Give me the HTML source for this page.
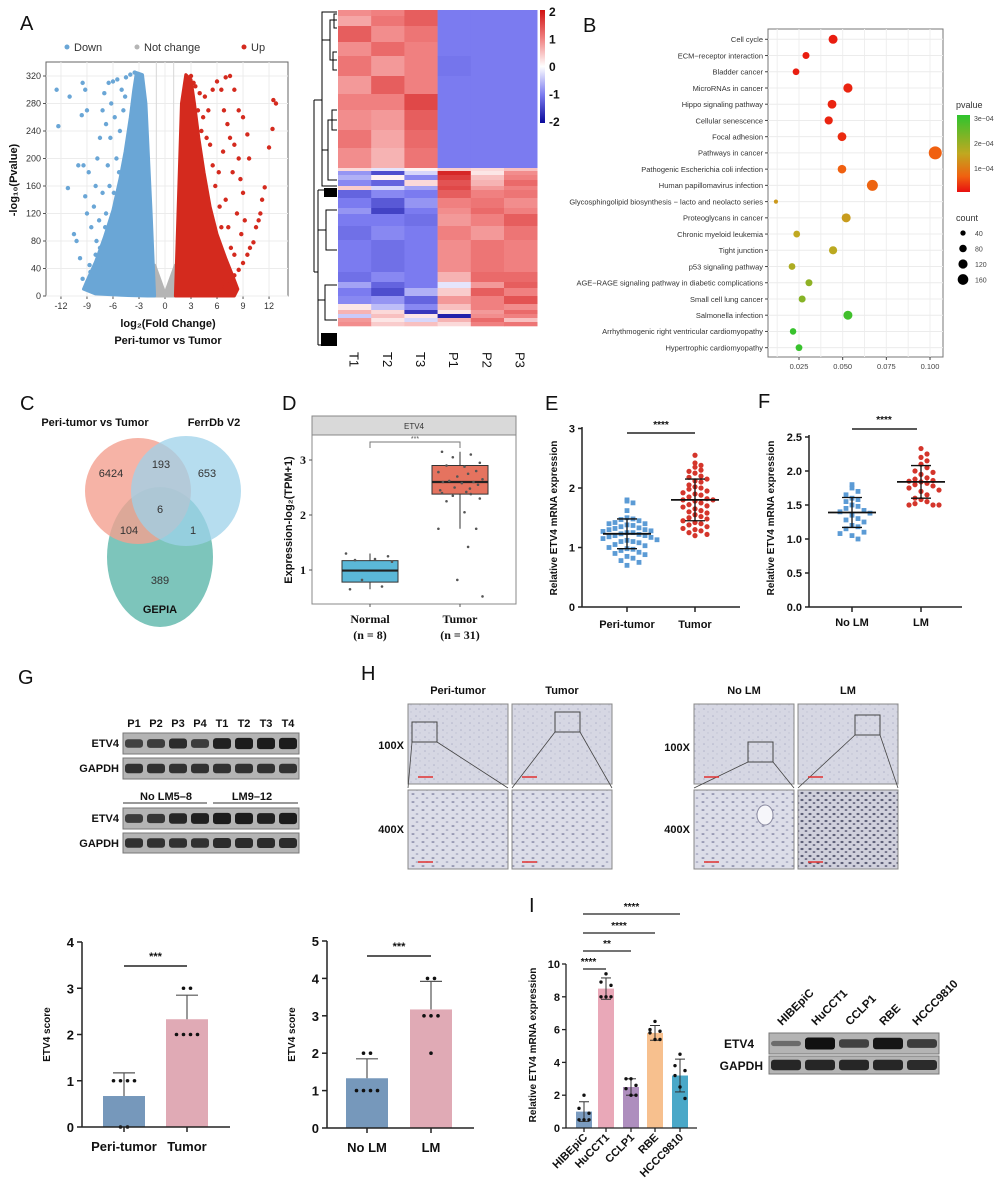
<!DOCTYPE html>
<html><head><meta charset="utf-8"><style>
html,body{margin:0;padding:0;background:#fff;}
svg{display:block;font-family:"Liberation Sans",Arial,sans-serif;}
</style></head><body>
<svg id="fig" width="1000" height="1190" viewBox="0 0 1000 1190" xmlns="http://www.w3.org/2000/svg">
<defs>
<linearGradient id="hmgrad" x1="0" y1="0" x2="0" y2="1"><stop offset="0" stop-color="#d01010"/><stop offset="0.25" stop-color="#f08080"/><stop offset="0.5" stop-color="#ffffff"/><stop offset="0.75" stop-color="#7b7bf0"/><stop offset="1" stop-color="#0a0a9a"/></linearGradient>
<linearGradient id="pgrad" x1="0" y1="0" x2="0" y2="1"><stop offset="0" stop-color="#2ec42e"/><stop offset="0.5" stop-color="#c0a820"/><stop offset="0.8" stop-color="#f06010"/><stop offset="1" stop-color="#e81010"/></linearGradient>
<pattern id="tex1" width="9" height="7" patternUnits="userSpaceOnUse"><rect width="9" height="7" fill="#d6d7e3"/><circle cx="2" cy="2" r="0.8" fill="#b0b2c8"/><circle cx="6" cy="5" r="0.7" fill="#c0c2d4"/></pattern>
<pattern id="tex2" width="10" height="8" patternUnits="userSpaceOnUse"><rect width="10" height="8" fill="#dcdde8"/><ellipse cx="3" cy="2" rx="1.6" ry="0.9" fill="#8e90ac"/><ellipse cx="7" cy="6" rx="1.4" ry="0.8" fill="#a0a2bc"/></pattern>
<pattern id="tex3" width="8" height="7" patternUnits="userSpaceOnUse"><rect width="8" height="7" fill="#d0d0dc"/><ellipse cx="2" cy="2" rx="1.6" ry="1.1" fill="#5e6078"/><ellipse cx="6" cy="5" rx="1.4" ry="1" fill="#707088"/></pattern>
</defs>
<g id="root"></g>
</svg>
<script>
// ---------------- DATA ----------------
const volcanoDown = [[-12.5,300],[-12.3,247],[-11,290],[-11.2,157],[-10,190],[-9.5,310],[-9.2,300],[-9.6,263],[-9.2,145],[-9,270],[-10.5,90],[-10.2,80],[-9.8,55],[-9.5,25],[-8.7,45],[-8.5,100],[-8.2,130],[-8,160],[-7.8,200],[-7.5,230],[-7.2,270],[-7,295],[-6.8,250],[-6.5,310],[-6,312],[-5.5,315],[-5,300],[-8,60],[-7.6,110],[-7.2,150],[-6.6,190],[-6.3,230],[-9,120],[-8.8,180],[-9.4,190],[-7.9,80],[-8.6,35],[-7.4,40],[-6.2,280],[-5.8,260],[-4.5,318],[-4,322],[-3.5,325],[-5.6,200],[-5.2,240],[-4.8,270],[-6.8,120],[-6.4,160],[-7.5,70],[-5.9,150],[-4.6,290],[-5.3,180],[-6.9,100]];
const volcanoUp = [[3,320],[3.5,305],[4,295],[4.6,290],[5,270],[5.5,300],[6,312],[6.5,300],[7,318],[7.5,320],[8,300],[8.5,270],[9,260],[9.5,235],[12.5,285],[12.8,280],[12.4,243],[12,216],[11.5,158],[11.2,140],[11,120],[10.8,110],[10.5,100],[10.2,78],[9.8,70],[9.5,60],[9,48],[8.5,38],[8,30],[7.5,22],[7,15],[6.5,10],[9,150],[8.7,170],[8.5,200],[7.8,180],[7.5,230],[7.2,250],[6.8,270],[8,220],[9.2,110],[8.3,120],[7,140],[8.8,90],[6.2,180],[6.7,210],[7.3,100],[8,60],[9.7,200],[4.2,240],[5.2,220],[3.8,270],[5.8,160],[6.3,130],[5.5,190],[4.8,230],[6.5,100],[7.6,70],[3.3,310],[4.4,260]];
const volcanoDownCore = [[-1.2,0],[-1.6,120],[-2.2,280],[-2.6,322],[-3.3,325],[-3.6,300],[-4,260],[-4.6,210],[-5.2,170],[-6,125],[-7,85],[-8,50],[-9,22],[-9.4,10],[-8,3],[-5,1],[-2,0]];
const volcanoUpCore = [[1.2,0],[1.5,120],[1.9,280],[2.4,322],[3,315],[3.4,280],[3.9,230],[4.5,180],[5.2,130],[6,90],[7,55],[7.8,30],[8.4,10],[8,0]];
const volcanoGrey = [[-1.7,45],[-1.2,45],[0,3],[1.2,45],[1.7,45],[1.3,0],[-1.3,0]];
const volcanoXTicks = [-12,-9,-6,-3,0,3,6,9,12];
const volcanoYTicks = [0,40,80,120,160,200,240,280,320];

const heatCols = ['T1','T2','T3','P1','P2','P3'];
const heatBandHeights = [6,10,16,14,20,18,16,20,18,20, 3,4,5,6,4,8,10,6,12,14,32,10,6,8,8,6,4,4,4,4];
const heatBandValues = [
[0.9,1.0,1.3,-1,-1,-1],[0.7,1.1,1.3,-1,-1,-1],[1.3,0.9,1.1,-1,-1,-1],[0.9,1.2,1.0,-1,-1,-1],[1.1,0.8,1.0,-1.05,-1,-1],
[0.8,1.3,1.0,-1,-1,-1],[1.0,1.0,1.5,-1,-1,-1],[0.9,0.8,1.3,-1,-1,-1],[1.1,0.7,1.2,-1,-1,-1],[0.9,0.6,1.1,-1,-1,-1],
[0.3,-0.2,0.1,0.4,0.3,0.5],[-0.8,-1.4,-0.3,1.8,0.2,0.9],[-0.6,0.1,-0.9,1.6,0.5,1.0],[-0.9,-1.2,0.3,1.4,0.6,1.2],[0.4,-0.3,-0.7,1.5,0.8,1.0],
[-1.2,-0.9,-1,1.3,1.0,1.1],[-1,-1.3,-0.8,1.0,1.1,0.9],[-0.8,-1.5,-1,0.9,1.2,1.0],[-1,-1,-1.1,0.8,1.0,1.3],[-1.1,-0.9,-1,1.0,0.8,1.1],
[-1,-1.1,-1,0.9,1.1,1.0],[-1.1,-0.9,-1,0.6,1.2,1.2],[-0.7,-1.2,-1,-0.2,0.8,1.3],[-1.0,-1.4,-0.6,0.4,1.3,1.0],[-0.9,-0.8,-1.2,0.8,1.0,1.4],
[0.2,-0.5,-0.9,0.5,1.0,0.9],[0.6,0.3,-1.6,0.2,0.8,1.2],[-0.4,0.5,0.2,-1.8,0.9,1.0],[0.8,0.2,-0.3,0.6,1.2,0.5],[0.9,0.4,0.5,0.3,1.0,1.1]];

const keggTerms = ['Cell cycle','ECM−receptor interaction','Bladder cancer','MicroRNAs in cancer','Hippo signaling pathway','Cellular senescence','Focal adhesion','Pathways in cancer','Pathogenic Escherichia coli infection','Human papillomavirus infection','Glycosphingolipid biosynthesis − lacto and neolacto series','Proteoglycans in cancer','Chronic myeloid leukemia','Tight junction','p53 signaling pathway','AGE−RAGE signaling pathway in diabetic complications','Small cell lung cancer','Salmonella infection','Arrhythmogenic right ventricular cardiomyopathy','Hypertrophic cardiomyopathy'];
const keggRatio = [0.0445,0.029,0.0233,0.053,0.0439,0.042,0.0496,0.103,0.0496,0.067,0.0118,0.052,0.0237,0.0445,0.021,0.0307,0.0268,0.053,0.0216,0.025];
const keggPvalue = [0.1e-4,0.1e-4,0.1e-4,0.15e-4,0.15e-4,0.15e-4,0.2e-4,0.6e-4,0.6e-4,0.65e-4,1.3e-4,1.35e-4,1.5e-4,1.55e-4,1.7e-4,2.0e-4,2.1e-4,2.8e-4,2.9e-4,2.9e-4];
const keggCount = [115,70,65,120,110,95,110,240,105,170,25,115,65,95,65,70,70,115,60,65];
const keggXTicks = [0.025,0.05,0.075,0.1];
const keggXTickLabels = ['0.025','0.050','0.075','0.100'];
const countLegend = [40,80,120,160];
const pLegend = [3e-4,2e-4,1e-4];
const pLegendLabels = ['3e−04','2e−04','1e−04'];

const vennLabels = ['6424','193','653','6','104','1','389'];

const boxGroups = ['Normal','Tumor'];
const boxStats = [[0.65,0.78,0.99,1.17,1.3],[1.75,2.38,2.6,2.9,3.15]];
const boxPointsNormal = [0.65,0.7,0.82,1.15,1.18,1.2,1.25,1.3];
const boxPointsTumor = [3.15,3.1,3.05,2.95,2.9,2.88,2.8,2.78,2.75,2.7,2.65,2.62,2.6,2.6,2.58,2.55,2.5,2.48,2.45,2.42,2.4,2.38,2.35,2.3,2.25,2.05,1.75,1.75,1.42,0.82,0.52];
const boxYTicks = [1,2,3];

const eGroups = ['Peri-tumor','Tumor'];
const ePeri = [1.8,1.78,1.75,1.62,1.5,1.48,1.47,1.45,1.42,1.4,1.4,1.38,1.37,1.35,1.33,1.32,1.3,1.3,1.28,1.27,1.25,1.25,1.23,1.22,1.2,1.2,1.18,1.17,1.15,1.13,1.12,1.1,1.1,1.08,1.05,1.03,1.0,0.98,0.97,0.95,0.92,0.9,0.88,0.85,0.82,0.78,0.75,0.7];
const eTumor = [2.55,2.42,2.38,2.35,2.3,2.28,2.25,2.2,2.18,2.15,2.12,2.1,2.05,2.02,2.0,1.98,1.95,1.92,1.9,1.88,1.85,1.82,1.8,1.8,1.78,1.75,1.72,1.7,1.68,1.65,1.62,1.6,1.58,1.55,1.52,1.5,1.48,1.45,1.42,1.4,1.38,1.35,1.32,1.3,1.28,1.25,1.22,1.2];
const eStats = [[1.23,0.25],[1.8,0.35]];
const eYTicks = [0,1,2,3];

const fGroups = ['No LM','LM'];
const fNoLM = [1.8,1.75,1.7,1.65,1.6,1.58,1.55,1.5,1.48,1.45,1.42,1.4,1.38,1.35,1.3,1.28,1.25,1.2,1.18,1.15,1.1,1.08,1.05,1.0];
const fLM = [2.33,2.25,2.2,2.15,2.1,2.05,2.0,1.98,1.95,1.9,1.88,1.86,1.85,1.84,1.82,1.8,1.78,1.75,1.72,1.7,1.65,1.6,1.58,1.55,1.52,1.5,1.5,1.5];
const fStats = [[1.39,0.22],[1.84,0.24]];
const fYTicks = [0,0.5,1,1.5,2,2.5];
const fYTickLabels = ['0.0','0.5','1.0','1.5','2.0','2.5'];

const blotLanes1 = ['P1','P2','P3','P4','T1','T2','T3','T4'];
const blotEtv4Top = [0.55,0.6,0.75,0.6,0.85,0.9,0.9,0.9];
const blotEtv4Bottom = [0.6,0.65,0.8,0.85,0.9,0.9,0.85,0.9];

const sc1Groups = ['Peri-tumor','Tumor'];
const sc1Means = [0.67,2.33];
const sc1Sd = [0.5,0.52];
const sc1Points = [[1,1,1,1,0,0],[2,2,2,2,3,3]];
const sc1YTicks = [0,1,2,3,4];
const sc2Groups = ['No LM','LM'];
const sc2Means = [1.33,3.17];
const sc2Sd = [0.52,0.75];
const sc2Points = [[1,1,1,1,2,2],[4,4,3,3,3,2]];
const sc2YTicks = [0,1,2,3,4,5];

const iGroups = ['HIBEpiC','HuCCT1','CCLP1','RBE','HCCC9810'];
const iMeans = [1.0,8.5,2.5,5.8,3.2];
const iSd = [0.6,0.65,0.5,0.45,1.0];
const iPoints = [[2.0,1.2,0.9,0.5,0.5,0.5],[9.4,8.9,8.7,8.0,8.0,8.0],[3.0,3.0,2.6,2.4,2.0,2.0],[6.5,6.0,5.9,5.8,5.4,5.4],[4.5,3.8,3.5,3.2,2.5,1.8]];
const iYTicks = [0,2,4,6,8,10];
const iSig = ['****','**','****','****'];
const iBlotEtv4 = [0.15,1.0,0.55,0.95,0.6];

// ---------------- HELPERS ----------------
const NS = 'http://www.w3.org/2000/svg';
const root = document.getElementById('root');
function mk(parent, tag, attrs, name, inter) {
  const el = document.createElementNS(NS, tag);
  for (const k in attrs) el.setAttribute(k, attrs[k]);
  
  
  parent.appendChild(el);
  return el;
}
function grp(name, parent) { return mk(parent || root, 'g', {}, name, false); }
function T(parent, x, y, s, size, name, extra) {
  const a = Object.assign({x: x, y: y, 'font-size': size, fill: '#111'}, extra || {});
  const t = mk(parent, 'text', a, name, false);
  t.textContent = s;
  return t;
}
function line(parent, x1, y1, x2, y2, stroke, w, name) {
  return mk(parent, 'line', {x1: x1, y1: y1, x2: x2, y2: y2, stroke: stroke, 'stroke-width': w}, name, false);
}
function lerpC(a, b, t) { return 'rgb(' + a.map((v, i) => Math.round(v + (b[i] - v) * t)).join(',') + ')'; }
function heatColor(v) {
  const stops = [[-2,[10,10,154]],[-1,[123,123,240]],[0,[255,255,255]],[1,[240,128,128]],[2,[208,16,16]]];
  v = Math.max(-2, Math.min(2, v));
  for (let i = 0; i < 4; i++) if (v <= stops[i+1][0]) return lerpC(stops[i][1], stops[i+1][1], v - stops[i][0]);
  return 'rgb(208,16,16)';
}
function pColor(p) {
  const stops = [[0,[232,16,16]],[0.6e-4,[240,96,16]],[1.5e-4,[192,168,32]],[3e-4,[46,196,46]]];
  for (let i = 0; i < 3; i++) if (p <= stops[i+1][0]) return lerpC(stops[i][1], stops[i+1][1], (p - stops[i][0]) / (stops[i+1][0] - stops[i][0]));
  return 'rgb(46,196,46)';
}
function panelLetter(s, x, y) { T(root, x, y, s, 20, 'panel-label-' + s.toLowerCase()); }

// ---------------- PANEL A: VOLCANO ----------------
(function(){
  const g = grp('volcano-plot');
  const vx = v => 165 + v * 8.67, vy = v => 296 - v * 0.6875;
  mk(g, 'rect', {x: 46, y: 62, width: 242, height: 234, fill: '#fff', stroke: '#666', 'stroke-width': 1}, 'plot-frame', false);
  volcanoXTicks.forEach(t => {
    line(g, vx(t), 62, vx(t), 296, '#ececec', 1, 'x-gridline');
    line(g, vx(t), 296, vx(t), 299, '#555', 1, 'x-tick');
    T(g, vx(t), 309, String(t), 9, 'x-tick-label', {'text-anchor': 'middle', fill: '#333'});
  });
  volcanoYTicks.forEach(t => {
    line(g, 46, vy(t), 288, vy(t), '#ececec', 1, 'y-gridline');
    line(g, 43, vy(t), 46, vy(t), '#555', 1, 'y-tick');
    T(g, 41, vy(t) + 3, String(t), 9, 'y-tick-label', {'text-anchor': 'end', fill: '#333'});
  });
  line(g, vx(-1), 62, vx(-1), 296, '#d8d8d8', 1, 'threshold-left');
  line(g, vx(1), 62, vx(1), 296, '#d8d8d8', 1, 'threshold-right');
  const poly = (pts, fill, name) => mk(g, 'polygon', {points: pts.map(p => vx(p[0]) + ',' + vy(p[1])).join(' '), fill: fill, stroke: fill, 'stroke-width': 3, 'stroke-linejoin': 'round'}, name, false);
  poly(volcanoGrey, '#b5b5b5', 'not-change-core');
  poly(volcanoDownCore, '#6aa6d6', 'down-core');
  poly(volcanoUpCore, '#d42a1e', 'up-core');
  volcanoDown.forEach(p => mk(g, 'circle', {cx: vx(p[0]), cy: vy(p[1]), r: 2.2, fill: '#6aa6d6'}, 'down-point', false));
  volcanoUp.forEach(p => mk(g, 'circle', {cx: vx(p[0]), cy: vy(p[1]), r: 2.2, fill: '#d42a1e'}, 'up-point', false));
  mk(g, 'circle', {cx: 67, cy: 47, r: 2.5, fill: '#6aa6d6'}, 'legend-down-marker', false);
  T(g, 74, 51, 'Down', 11, 'legend-down', {fill: '#333'});
  mk(g, 'circle', {cx: 137, cy: 47, r: 2.5, fill: '#b5b5b5'}, 'legend-notchange-marker', false);
  T(g, 144, 51, 'Not change', 11, 'legend-notchange', {fill: '#333'});
  mk(g, 'circle', {cx: 244, cy: 47, r: 2.5, fill: '#d42a1e'}, 'legend-up-marker', false);
  T(g, 251, 51, 'Up', 11, 'legend-up', {fill: '#333'});
  T(g, 17, 180, '-log₁₀(Pvalue)', 11, 'y-axis-title', {'text-anchor': 'middle', 'font-weight': 'bold', transform: 'rotate(-90 17 180)'});
  T(g, 168, 327, 'log₂(Fold Change)', 11, 'x-axis-title', {'text-anchor': 'middle', 'font-weight': 'bold'});
  T(g, 168, 344, 'Peri-tumor vs Tumor', 11, 'comparison-title', {'text-anchor': 'middle', 'font-weight': 'bold'});
})();
panelLetter('A', 20, 30);

// ---------------- HEATMAP ----------------
(function(){
  const g = grp('heatmap');
  const x0 = 338, cw = 33.2;
  let y = 10;
  heatBandHeights.forEach((h, bi) => {
    heatBandValues[bi].forEach((v, ci) => {
      mk(g, 'rect', {x: x0 + ci * cw, y: y, width: cw + 0.3, height: h + 0.3, fill: heatColor(v)}, 'heatmap-cell', false);
    });
    y += h;
  });
  heatCols.forEach((c, i) => {
    const cx = x0 + i * cw + cw / 2;
    T(g, cx - 5, 352, c, 13, 'column-label', {transform: 'rotate(90 ' + (cx - 5) + ' 352)'});
  });
  const d = grp('dendrogram', g);
  mk(d, 'path', {d: 'M337,12 H322 V186 H337 M322,100 H314 M314,100 V272 M314,272 H318 M318,190 V345 M318,190 H337 M318,345 H337 M322,40 H330 V20 H337 M330,40 V60 H337 M322,150 H328 V120 H337 M328,150 V180 H337 M330,20 H334 V14 H337 M334,20 V28 H337 M330,60 H333 V52 H337 M333,60 V70 H337 M328,120 H332 V110 H337 M332,120 V130 H337 M318,230 H326 V210 H337 M326,230 V250 H337 M318,300 H325 V285 H337 M325,300 V320 H337', stroke: '#000', fill: 'none', 'stroke-width': 1}, 'dendrogram-lines', false);
  mk(d, 'rect', {x: 324, y: 188, width: 13, height: 9, fill: '#000'}, 'dendrogram-dense-1', false);
  mk(d, 'rect', {x: 321, y: 333, width: 16, height: 13, fill: '#000'}, 'dendrogram-dense-2', false);
  mk(g, 'rect', {x: 540, y: 10, width: 5, height: 113, fill: 'url(#hmgrad)'}, 'colorbar', false);
  ['2','1','0','-1','-2'].forEach((s, i) => T(g, 549, 16 + i * 27.5, s, 12, 'colorbar-label', {'font-weight': 'bold'}));
})();

// ---------------- PANEL B: KEGG BUBBLE ----------------
(function(){
  const g = grp('kegg-bubble-plot');
  const bx = v => 799 + (v - 0.025) * 1747, by = i => 39.3 + i * 16.23;
  mk(g, 'rect', {x: 768, y: 29, width: 175, height: 328, fill: '#fff', stroke: '#777'}, 'plot-frame', false);
  for (let v = 0.0125; v < 0.11; v += 0.0125) line(g, bx(v), 29, bx(v), 357, '#efefef', 1, 'x-gridline');
  keggTerms.forEach((t, i) => {
    line(g, 768, by(i), 943, by(i), '#ececec', 1, 'y-gridline');
    line(g, 765, by(i), 768, by(i), '#444', 1, 'y-tick');
    T(g, 763, by(i) + 2.8, t, 7.5, 'term-label', {'text-anchor': 'end', fill: '#333'});
  });
  keggXTicks.forEach((v, i) => {
    line(g, bx(v), 357, bx(v), 360, '#444', 1, 'x-tick');
    T(g, bx(v), 369, keggXTickLabels[i], 7.5, 'x-tick-label', {'text-anchor': 'middle', fill: '#444'});
  });
  keggTerms.forEach((t, i) => {
    mk(g, 'circle', {cx: bx(keggRatio[i]), cy: by(i), r: Math.sqrt(keggCount[i]) * 0.42, fill: pColor(keggPvalue[i])}, 'bubble', false);
  });
  T(g, 956, 108, 'pvalue', 9, 'color-legend-title', {fill: '#333'});
  mk(g, 'rect', {x: 957, y: 115, width: 13, height: 77, fill: 'url(#pgrad)'}, 'color-legend-bar', false);
  pLegend.forEach((p, i) => T(g, 974, 121 + (3e-4 - p) / 1e-4 * 25, pLegendLabels[i], 7, 'color-legend-label', {fill: '#444'}));
  T(g, 956, 221, 'count', 9, 'size-legend-title', {fill: '#333'});
  countLegend.forEach((c, i) => {
    mk(g, 'circle', {cx: 963, cy: 233 + i * 15.5, r: Math.sqrt(c) * 0.42, fill: '#000'}, 'size-legend-dot', false);
    T(g, 975, 236 + i * 15.5, String(c), 7, 'size-legend-label', {fill: '#444'});
  });
})();
panelLetter('B', 583, 32);

// ---------------- PANEL C: VENN ----------------
(function(){
  const g = grp('venn-diagram');
  mk(g, 'ellipse', {cx: 160, cy: 557, rx: 53, ry: 70, fill: '#6fbfb4', opacity: 0.9}, 'gepia-set', false);
  mk(g, 'circle', {cx: 138, cy: 491, r: 53, fill: '#f4a090', opacity: 0.8}, 'peri-tumor-set', false);
  mk(g, 'circle', {cx: 186, cy: 491, r: 55, fill: '#9ed2ea', opacity: 0.75}, 'ferrdb-set', false);
  T(g, 95, 426, 'Peri-tumor vs Tumor', 11, 'set-label-peri', {'text-anchor': 'middle', 'font-weight': 'bold'});
  T(g, 214, 426, 'FerrDb V2', 11, 'set-label-ferrdb', {'text-anchor': 'middle', 'font-weight': 'bold'});
  T(g, 160, 613, 'GEPIA', 11, 'set-label-gepia', {'text-anchor': 'middle', 'font-weight': 'bold'});
  const pos = [[111,477],[161,468],[207,477],[160,513],[129,534],[193,534],[160,584]];
  vennLabels.forEach((s, i) => T(g, pos[i][0], pos[i][1], s, 11, 'venn-count', {'text-anchor': 'middle', fill: '#333'}));
})();
panelLetter('C', 20, 410);

// ---------------- PANEL D: BOXPLOT ----------------
(function(){
  const g = grp('etv4-boxplot');
  const dy = v => 570 - (v - 1) * 55;
  const cx = [370, 460];
  mk(g, 'rect', {x: 312, y: 416, width: 204, height: 19, fill: '#d9d9d9', stroke: '#888'}, 'facet-strip', false);
  T(g, 414, 429, 'ETV4', 8, 'facet-title', {'text-anchor': 'middle', fill: '#333'});
  mk(g, 'rect', {x: 312, y: 435, width: 204, height: 169, fill: '#fff', stroke: '#888'}, 'plot-frame', false);
  boxYTicks.forEach(t => {
    line(g, 309, dy(t), 312, dy(t), '#555', 1, 'y-tick');
    T(g, 306, dy(t) + 4, String(t), 12, 'y-tick-label', {'text-anchor': 'end', 'font-weight': 'bold', 'font-family': 'Liberation Serif, serif'});
  });
  const cols = ['#5bb8d8', '#e5735f'];
  boxStats.forEach((s, i) => {
    line(g, cx[i], dy(s[0]), cx[i], dy(s[4]), '#333', 1, 'whisker');
    mk(g, 'rect', {x: cx[i] - 28, y: dy(s[3]), width: 56, height: dy(s[1]) - dy(s[3]), fill: cols[i], stroke: '#333'}, 'box-' + boxGroups[i].toLowerCase(), false);
    line(g, cx[i] - 28, dy(s[2]), cx[i] + 28, dy(s[2]), '#222', 2.2, 'median-line');
    line(g, cx[i], 604, cx[i], 607, '#555', 1, 'x-tick');
  });
  const jit = [-20, 12, -8, 22, -15, 5, 18, -24, 9, -3, 25, -12, 15, -19, 2, 20, -6, 11, -22, 7];
  boxPointsNormal.forEach((v, k) => mk(g, 'circle', {cx: cx[0] + jit[k % 20], cy: dy(v), r: 1.3, fill: '#555'}, 'jitter-point', false));
  boxPointsTumor.forEach((v, k) => mk(g, 'circle', {cx: cx[1] + jit[k % 20] * 0.9, cy: dy(v), r: 1.3, fill: '#555'}, 'jitter-point', false));
  mk(g, 'path', {d: 'M370,448 V442 H460 V448', stroke: '#777', fill: 'none'}, 'significance-bracket', false);
  T(g, 415, 441, '***', 7, 'significance-label', {'text-anchor': 'middle', fill: '#555'});
  T(g, 292, 520, 'Expression-log₂(TPM+1)', 11, 'y-axis-title', {'text-anchor': 'middle', 'font-weight': 'bold', transform: 'rotate(-90 292 520)'});
  T(g, 370, 623, 'Normal', 12, 'x-label-normal', {'text-anchor': 'middle', 'font-weight': 'bold', 'font-family': 'Liberation Serif, serif'});
  T(g, 370, 639, '(n = 8)', 12, 'x-label-normal-n', {'text-anchor': 'middle', 'font-weight': 'bold', 'font-family': 'Liberation Serif, serif'});
  T(g, 460, 623, 'Tumor', 12, 'x-label-tumor', {'text-anchor': 'middle', 'font-weight': 'bold', 'font-family': 'Liberation Serif, serif'});
  T(g, 460, 639, '(n = 31)', 12, 'x-label-tumor-n', {'text-anchor': 'middle', 'font-weight': 'bold', 'font-family': 'Liberation Serif, serif'});
})();
panelLetter('D', 282, 410);

// ---------------- scatter-dot helper ----------------
function dotPlot(g, vals, cx, yf, shape, color, binPx) {
  const bins = {};
  vals.forEach(v => {
    const y = yf(v), b = Math.round(y / binPx);
    bins[b] = (bins[b] || 0) + 1;
    const k = bins[b] - 1;
    const off = (k % 2 ? 1 : -1) * Math.ceil(k / 2) * 6;
    if (shape === 'sq') mk(g, 'rect', {x: cx + off - 2.4, y: y - 2.4, width: 4.8, height: 4.8, fill: color}, 'data-point', false);
    else mk(g, 'circle', {cx: cx + off, cy: y, r: 2.6, fill: color}, 'data-point', false);
  });
}
function meanSd(g, cx, yf, m, sd, hw) {
  line(g, cx - hw, yf(m), cx + hw, yf(m), '#111', 1.8, 'mean-line');
  line(g, cx, yf(m - sd), cx, yf(m + sd), '#111', 1.3, 'sd-bar');
  line(g, cx - 10, yf(m - sd), cx + 10, yf(m - sd), '#111', 1.3, 'sd-cap');
  line(g, cx - 10, yf(m + sd), cx + 10, yf(m + sd), '#111', 1.3, 'sd-cap');
}

// ---------------- PANEL E ----------------
(function(){
  const g = grp('panel-e-dotplot');
  const ey = v => 607 - v * 59.5, cx = [627, 695];
  line(g, 582, 427, 582, 607, '#222', 1.5, 'y-axis');
  line(g, 582, 607, 740, 607, '#222', 1.5, 'x-axis');
  eYTicks.forEach(t => { line(g, 578, ey(t), 582, ey(t), '#222', 1.5, 'y-tick'); T(g, 575, ey(t) + 4, String(t), 11, 'y-tick-label', {'text-anchor': 'end', 'font-weight': 'bold'}); });
  cx.forEach((c, i) => { line(g, c, 607, c, 612, '#222', 1.5, 'x-tick'); T(g, c, 628, eGroups[i], 11, 'x-tick-label', {'text-anchor': 'middle', 'font-weight': 'bold'}); });
  dotPlot(g, ePeri, cx[0], ey, 'sq', '#5b9bd5', 8);
  dotPlot(g, eTumor, cx[1], ey, 'ci', '#d4352b', 7);
  eStats.forEach((s, i) => meanSd(g, cx[i], ey, s[0], s[1], 24));
  line(g, 627, 433, 695, 433, '#222', 1.5, 'significance-line');
  T(g, 661, 428, '****', 10, 'significance-label', {'text-anchor': 'middle', 'font-weight': 'bold'});
  T(g, 557, 518, 'Relative  ETV4 mRNA expression', 10, 'y-axis-title', {'text-anchor': 'middle', 'font-weight': 'bold', transform: 'rotate(-90 557 518)'});
})();
panelLetter('E', 545, 410);

// ---------------- PANEL F ----------------
(function(){
  const g = grp('panel-f-dotplot');
  const fy = v => 607 - v * 68, cx = [852, 921];
  line(g, 809, 435, 809, 607, '#222', 1.5, 'y-axis');
  line(g, 809, 607, 962, 607, '#222', 1.5, 'x-axis');
  fYTicks.forEach((t, i) => { line(g, 805, fy(t), 809, fy(t), '#222', 1.5, 'y-tick'); T(g, 802, fy(t) + 4, fYTickLabels[i], 11, 'y-tick-label', {'text-anchor': 'end', 'font-weight': 'bold'}); });
  cx.forEach((c, i) => { line(g, c, 607, c, 612, '#222', 1.5, 'x-tick'); T(g, c, 626, fGroups[i], 11, 'x-tick-label', {'text-anchor': 'middle', 'font-weight': 'bold'}); });
  dotPlot(g, fNoLM, cx[0], fy, 'sq', '#5b9bd5', 10);
  dotPlot(g, fLM, cx[1], fy, 'ci', '#d4352b', 9);
  fStats.forEach((s, i) => meanSd(g, cx[i], fy, s[0], s[1], 24));
  line(g, 852, 429, 917, 429, '#222', 1.5, 'significance-line');
  T(g, 884, 423, '****', 10, 'significance-label', {'text-anchor': 'middle', 'font-weight': 'bold'});
  T(g, 774, 518, 'Relative  ETV4 mRNA expression', 10, 'y-axis-title', {'text-anchor': 'middle', 'font-weight': 'bold', transform: 'rotate(-90 774 518)'});
})();
panelLetter('F', 758, 408);

// ---------------- PANEL G: BLOTS ----------------
function blot(g, x, y, w, h, vals, name) {
  const b = grp(name, g);
  mk(b, 'rect', {x: x, y: y, width: w, height: h, fill: '#b4b4b4', stroke: '#777'}, 'blot-membrane', false);
  const lw = w / vals.length;
  vals.forEach((v, i) => {
    mk(b, 'rect', {x: x + i * lw + 2, y: y + h / 2 - (2 + v * 4), width: lw - 4, height: 4 + v * 8, rx: 3, fill: '#111', opacity: 0.35 + v * 0.65}, 'blot-band', false);
  });
}
(function(){
  const g = grp('western-blot-g');
  const lw = 176 / 8;
  blotLanes1.forEach((s, i) => T(g, 123 + lw * i + lw / 2, 727, s, 11, 'lane-label', {'text-anchor': 'middle', 'font-weight': 'bold'}));
  blot(g, 123, 733, 176, 21, blotEtv4Top, 'etv4-blot-1');
  blot(g, 123, 758, 176, 21, [0.7,0.7,0.7,0.7,0.7,0.7,0.7,0.7], 'gapdh-blot-1');
  T(g, 119, 747, 'ETV4', 11, 'row-label', {'text-anchor': 'end', 'font-weight': 'bold'});
  T(g, 119, 772, 'GAPDH', 11, 'row-label', {'text-anchor': 'end', 'font-weight': 'bold'});
  T(g, 166, 800, 'No LM5–8', 11, 'group-label', {'text-anchor': 'middle', 'font-weight': 'bold'});
  T(g, 252, 800, 'LM9–12', 11, 'group-label', {'text-anchor': 'middle', 'font-weight': 'bold'});
  line(g, 123, 803, 207, 803, '#333', 1, 'group-line');
  line(g, 213, 803, 298, 803, '#333', 1, 'group-line');
  blot(g, 123, 808, 176, 21, blotEtv4Bottom, 'etv4-blot-2');
  blot(g, 123, 833, 176, 20, [0.7,0.7,0.7,0.7,0.75,0.75,0.75,0.75], 'gapdh-blot-2');
  T(g, 119, 822, 'ETV4', 11, 'row-label', {'text-anchor': 'end', 'font-weight': 'bold'});
  T(g, 119, 847, 'GAPDH', 11, 'row-label', {'text-anchor': 'end', 'font-weight': 'bold'});
})();
panelLetter('G', 18, 684);

// ---------------- PANEL H: IHC ----------------
(function(){
  const g = grp('ihc-images');
  const cols = [[408,'Peri-tumor','tex1','tex2'],[512,'Tumor','tex1','tex2'],[694,'No LM','tex1','tex2'],[798,'LM','tex1','tex3']];
  const boxes = [[412,722],[555,712],[748,742],[855,715]];
  cols.forEach((c, i) => {
    T(g, c[0] + 50, 694, c[1], 11, 'ihc-column-title', {'text-anchor': 'middle', 'font-weight': 'bold'});
    mk(g, 'rect', {x: c[0], y: 704, width: 100, height: 80, fill: 'url(#' + c[2] + ')', stroke: '#888'}, 'ihc-100x-image', false);
    mk(g, 'rect', {x: c[0], y: 790, width: 100, height: 79, fill: 'url(#' + c[3] + ')', stroke: '#888'}, 'ihc-400x-image', false);
    const b = boxes[i];
    mk(g, 'rect', {x: b[0], y: b[1], width: 25, height: 20, fill: 'none', stroke: '#444'}, 'zoom-box', false);
    line(g, b[0], b[1] + 20, c[0], 788, '#444', 0.8, 'zoom-line');
    line(g, b[0] + 25, b[1] + 20, c[0] + 100, 788, '#444', 0.8, 'zoom-line');
    line(g, c[0] + 10, 777, c[0] + 25, 777, '#e03030', 1.5, 'scale-bar');
    line(g, c[0] + 10, 862, c[0] + 25, 862, '#e03030', 1.5, 'scale-bar');
  });
  T(g, 404, 749, '100X', 11, 'magnification-label', {'text-anchor': 'end', 'font-weight': 'bold'});
  T(g, 404, 833, '400X', 11, 'magnification-label', {'text-anchor': 'end', 'font-weight': 'bold'});
  T(g, 690, 751, '100X', 11, 'magnification-label', {'text-anchor': 'end', 'font-weight': 'bold'});
  T(g, 690, 833, '400X', 11, 'magnification-label', {'text-anchor': 'end', 'font-weight': 'bold'});
  mk(g, 'ellipse', {cx: 765, cy: 815, rx: 8, ry: 10, fill: '#f6f6fa', stroke: '#8a8aa0'}, 'duct-lumen', false);
})();
panelLetter('H', 361, 680);

// ---------------- SCORE BAR CHARTS ----------------
function scoreChart(name, ax, y0, pxPer, xEnd, cxs, groups, means, sds, pts, ticks, sigY) {
  const g = grp(name);
  const yf = v => y0 - v * pxPer;
  const cols = ['#7698bb', '#e0aab5'];
  cxs.forEach((c, i) => {
    mk(g, 'rect', {x: c - 21, y: yf(means[i]), width: 42, height: y0 - yf(means[i]), fill: cols[i]}, 'bar-' + groups[i].toLowerCase().replace(/ /g, '-'), false);
    line(g, c, yf(means[i]), c, yf(means[i] + sds[i]), '#555', 1.2, 'error-bar');
    line(g, c - 11, yf(means[i] + sds[i]), c + 11, yf(means[i] + sds[i]), '#555', 1.2, 'error-cap');
    const cnt = {};
    pts[i].forEach(v => {
      cnt[v] = (cnt[v] || 0) + 1;
      const same = pts[i].filter(w => w === v).length;
      const k = cnt[v] - 1;
      mk(g, 'circle', {cx: c + (k - (same - 1) / 2) * 7, cy: yf(v), r: 1.8, fill: '#111'}, 'data-point', false);
    });
    line(g, c, y0, c, y0 + 5, '#222', 1.5, 'x-tick');
    T(g, c, y0 + 24, groups[i], 13, 'x-tick-label', {'text-anchor': 'middle', 'font-weight': 'bold'});
  });
  line(g, ax, yf(ticks[ticks.length - 1]), ax, y0, '#222', 1.5, 'y-axis');
  line(g, ax, y0, xEnd, y0, '#222', 1.5, 'x-axis');
  ticks.forEach(t => { line(g, ax - 5, yf(t), ax, yf(t), '#222', 1.5, 'y-tick'); T(g, ax - 8, yf(t) + 5, String(t), 13, 'y-tick-label', {'text-anchor': 'end', 'font-weight': 'bold'}); });
  line(g, cxs[0], yf(sigY), cxs[1], yf(sigY), '#222', 1.5, 'significance-line');
  T(g, (cxs[0] + cxs[1]) / 2, yf(sigY) - 6, '***', 11, 'significance-label', {'text-anchor': 'middle', 'font-weight': 'bold'});
  const my = (y0 + yf(ticks[ticks.length - 1])) / 2;
  T(g, ax - 32, my, 'ETV4 score', 10, 'y-axis-title', {'text-anchor': 'middle', 'font-weight': 'bold', transform: 'rotate(-90 ' + (ax - 32) + ' ' + my + ')'});
}
scoreChart('score-chart-tumor', 82, 1127, 46.25, 230, [124, 187], sc1Groups, sc1Means, sc1Sd, sc1Points, sc1YTicks, 3.48);
scoreChart('score-chart-lm', 327, 1128, 37.4, 474, [367, 431], sc2Groups, sc2Means, sc2Sd, sc2Points, sc2YTicks, 4.6);

// ---------------- PANEL I ----------------
(function(){
  const g = grp('panel-i-barchart');
  const y0 = 1128, yf = v => y0 - v * 16.4;
  const cx = [584, 606, 631, 655, 680];
  const cols = ['#7b9cc0', '#e9a8b8', '#ae8ebe', '#f7c08e', '#4aa8c8'];
  iGroups.forEach((s, i) => {
    mk(g, 'rect', {x: cx[i] - 8, y: yf(iMeans[i]), width: 16, height: y0 - yf(iMeans[i]), fill: cols[i]}, 'bar-' + s.toLowerCase(), false);
    line(g, cx[i], yf(iMeans[i] - iSd[i]), cx[i], yf(iMeans[i] + iSd[i]), '#333', 1, 'error-bar');
    line(g, cx[i] - 5, yf(iMeans[i] + iSd[i]), cx[i] + 5, yf(iMeans[i] + iSd[i]), '#333', 1, 'error-cap');
    line(g, cx[i] - 5, yf(iMeans[i] - iSd[i]), cx[i] + 5, yf(iMeans[i] - iSd[i]), '#333', 1, 'error-cap');
    const offs = [0, -5, 5, -5, 0, 5];
    iPoints[i].forEach((v, k) => mk(g, 'circle', {cx: cx[i] + offs[k], cy: yf(v), r: 1.7, fill: '#111'}, 'data-point', false));
    line(g, cx[i], y0, cx[i], y0 + 4, '#222', 1.3, 'x-tick');
    T(g, cx[i] + 4, y0 + 10, s, 11, 'x-tick-label', {'text-anchor': 'end', 'font-weight': 'bold', transform: 'rotate(-45 ' + (cx[i] + 4) + ' ' + (y0 + 10) + ')'});
  });
  line(g, 566, yf(10), 566, y0, '#222', 1.3, 'y-axis');
  line(g, 566, y0, 697, y0, '#222', 1.3, 'x-axis');
  iYTicks.forEach(t => { line(g, 562, yf(t), 566, yf(t), '#222', 1.3, 'y-tick'); T(g, 560, yf(t) + 4, String(t), 11, 'y-tick-label', {'text-anchor': 'end', 'font-weight': 'bold'}); });
  const sigYs = [969, 951, 933, 914];
  iSig.forEach((s, k) => {
    line(g, 583, sigYs[k], cx[k + 1], sigYs[k], '#222', 1.3, 'significance-line');
    T(g, 583 + (cx[k + 1] - 583) / 2 + (k === 0 ? -6 : 0), sigYs[k] - 4, s, 10, 'significance-label', {'text-anchor': 'middle', 'font-weight': 'bold'});
  });
  T(g, 536, 1045, 'Relative  ETV4 mRNA expression', 10, 'y-axis-title', {'text-anchor': 'middle', 'font-weight': 'bold', transform: 'rotate(-90 536 1045)'});
  const bl = grp('western-blot-i');
  blot(bl, 769, 1033, 170, 21, iBlotEtv4, 'etv4-blot-i');
  blot(bl, 769, 1056, 170, 18, [0.8,0.8,0.8,0.8,0.75], 'gapdh-blot-i');
  T(bl, 754, 1048, 'ETV4', 12, 'row-label', {'text-anchor': 'end', 'font-weight': 'bold'});
  T(bl, 763, 1070, 'GAPDH', 12, 'row-label', {'text-anchor': 'end', 'font-weight': 'bold'});
  const lx = [786, 820, 854, 888, 921];
  iGroups.forEach((s, i) => T(bl, lx[i] - 4, 1026, s, 11.5, 'lane-label', {'font-weight': 'bold', transform: 'rotate(-45 ' + (lx[i] - 4) + ' 1026)'}));
})();
panelLetter('I', 529, 912);
</script>
</body></html>
